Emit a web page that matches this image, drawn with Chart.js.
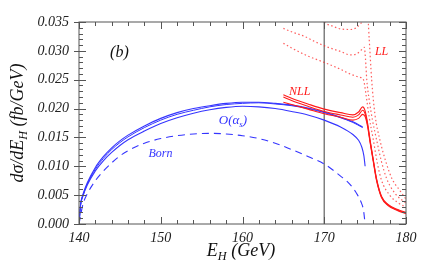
<!DOCTYPE html>
<html>
<head>
<meta charset="utf-8">
<script src="https://cdn.jsdelivr.net/npm/chart.js@4.4.0/dist/chart.umd.min.js"></script>
<style>
body { margin: 0; background: #fff; }
#wrap { width: 436px; height: 278px; }
</style>
</head>
<body>
<div id="wrap"><canvas id="myChart"></canvas></div>
<script>
// axis ticks
var xTicks = [140, 150, 160, 170, 180];
var yTicks = [0, 0.005, 0.010, 0.015, 0.020, 0.025, 0.030, 0.035];
var markE = 170; // vertical line

// O(alpha_s) curves (blue, solid)
var eUp = [140, 140.2, 140.5, 141, 142, 143, 144, 145, 146, 148, 150, 152, 154, 156, 158, 160, 162, 164, 166, 168, 170, 172, 173.5, 174.7];
var vUp1 = [0, 0.0035, 0.0052, 0.0071, 0.0098, 0.0117, 0.0132, 0.0144, 0.0154, 0.0170, 0.0183, 0.0193, 0.0200, 0.0205, 0.0209, 0.0211, 0.0211, 0.0209, 0.0206, 0.0201, 0.0194, 0.0185, 0.0177, 0.0168];
var vUp2 = [0, 0.0034, 0.0050, 0.0069, 0.0095, 0.0114, 0.0129, 0.0141, 0.0151, 0.0167, 0.0180, 0.0190, 0.0197, 0.0203, 0.0207, 0.0209, 0.0210, 0.0208, 0.0205, 0.0200, 0.0193, 0.0184, 0.0176, 0.0167];
var eLow = [140, 140.2, 140.5, 141, 142, 143, 144, 145, 146, 148, 150, 152, 154, 156, 158, 160, 162, 164, 166, 168, 170, 172, 173.5, 174.2, 174.6, 174.85, 175];
var vLow = [0, 0.0033, 0.0049, 0.0067, 0.0092, 0.0110, 0.0124, 0.0136, 0.0146, 0.0161, 0.0174, 0.0184, 0.0192, 0.0198, 0.0202, 0.0204, 0.0203, 0.0200, 0.0195, 0.0189, 0.0180, 0.0168, 0.0155, 0.0145, 0.0133, 0.0118, 0.0100];

// Born (blue, dashed)
var eBorn = [140, 140.5, 141, 142, 143, 144, 145, 146, 148, 150, 152, 154, 156, 158, 160, 162, 164, 166, 168, 170, 172, 173, 174, 174.5, 174.8, 175];
var vBorn = [0, 0.0035, 0.0052, 0.0075, 0.0092, 0.0106, 0.0118, 0.0127, 0.0140, 0.0148, 0.0153, 0.0156, 0.0157, 0.0156, 0.0153, 0.0148, 0.0140, 0.0129, 0.0117, 0.0104, 0.0083, 0.0071, 0.0052, 0.0038, 0.0024, 0];

// NLL (red, solid)
var eNll = [165, 166, 168, 170, 172, 173.5, 174.2, 174.7, 175, 175.3, 175.6, 176, 176.4, 177, 177.8, 179, 180];
var vNll1 = [0.0224, 0.0218, 0.0208, 0.0199, 0.0193, 0.0189, 0.0194, 0.0203, 0.0196, 0.0175, 0.0146, 0.0111, 0.0078, 0.0048, 0.0034, 0.0025, 0.0020];
var vNll2 = [0.0220, 0.0214, 0.0204, 0.0195, 0.0189, 0.0185, 0.0189, 0.0197, 0.0191, 0.0172, 0.0144, 0.0110, 0.0077, 0.0047, 0.0033, 0.0024, 0.0019];
var vNll3 = [0.0211, 0.0207, 0.0199, 0.0191, 0.0185, 0.0180, 0.0183, 0.0190, 0.0186, 0.0169, 0.0142, 0.0108, 0.0075, 0.0046, 0.0032, 0.0023, 0.0018];

// LL (red, dotted)
var eLl1 = [169.5, 170, 171, 172, 173.3, 174, 174.5, 175.3, 175.5, 175.8, 176.2, 176.8, 177.6, 178.3, 179.3, 180];
var vLl1 = [0.0362, 0.0350, 0.0343, 0.0338, 0.0337, 0.0341, 0.0348, 0.0362, 0.0320, 0.0250, 0.0190, 0.0146, 0.0105, 0.0078, 0.0057, 0.0043];
var eLl2 = [165, 166, 167.6, 169, 170.5, 172, 173.2, 174, 174.5, 174.9, 175.05, 175.2, 175.5, 175.9, 176.4, 177, 177.6, 178.6, 180];
var vLl2 = [0.0339, 0.0333, 0.0325, 0.0315, 0.0306, 0.0299, 0.0293, 0.0295, 0.0301, 0.0306, 0.0285, 0.0250, 0.0215, 0.0180, 0.0146, 0.0108, 0.0080, 0.0054, 0.0036];
var eLl3 = [165, 166, 168, 170, 172, 173, 173.7, 174.4, 174.8, 175.1, 175.5, 176, 176.5, 177, 178, 179, 180];
var vLl3 = [0.0313, 0.0305, 0.0291, 0.0280, 0.0268, 0.0261, 0.0257, 0.0254, 0.0250, 0.0225, 0.0185, 0.0146, 0.0105, 0.0076, 0.0050, 0.0037, 0.0029];

var serif = "'Liberation Serif', 'DejaVu Serif', serif";
var blue = "#3535ff";
var red = "#ff1a1a";
var redDot = "rgba(255, 40, 40, 0.75)";

function toPoints(xs, ys) {
	return xs.map(function(x, i) { return { x: x, y: ys[i] }; });
}

function lineSet(xs, ys, color, width, dash) {
	return {
		data: toPoints(xs, ys),
		borderColor: color,
		borderWidth: width,
		borderDash: dash || [],
		fill: false,
		pointRadius: 0,
		cubicInterpolationMode: 'monotone'
	};
}

// draw text made of parts, some as subscripts; returns width
function drawParts(ctx, parts, x, y, size, doDraw) {
	var w = 0;
	parts.forEach(function(p) {
		var s = p.sub ? size * 0.68 : size;
		ctx.font = "italic " + s + "px " + serif;
		if (doDraw) ctx.fillText(p.t, x + w, p.sub ? y + size * 0.22 : y);
		w += ctx.measureText(p.t).width;
	});
	return w;
}

// in-plot labels (positions given in data units)
var notes = [
	{ parts: [{ t: "(b)" }], e: 143.8, v: 0.0289, size: 16, color: "#111" },
	{ parts: [{ t: "LL" }], e: 176.2, v: 0.0293, size: 12, color: red },
	{ parts: [{ t: "NLL" }], e: 165.7, v: 0.02235, size: 12, color: red },
	{ parts: [{ t: "O(α" }, { t: "s", sub: true }, { t: ")" }], e: 157.1, v: 0.0173, size: 13, color: blue },
	{ parts: [{ t: "Born" }], e: 148.5, v: 0.0116, size: 12, color: blue }
];

var framePlugin = {
	id: 'frame',
	beforeDatasetsDraw: function(chart) {
		var ctx = chart.ctx, a = chart.chartArea;
		var px = chart.scales.x.getPixelForValue(markE);
		ctx.save();
		ctx.strokeStyle = "#808080";
		ctx.lineWidth = 1.5;
		ctx.beginPath();
		ctx.moveTo(px, a.top);
		ctx.lineTo(px, a.bottom);
		ctx.stroke();
		ctx.restore();
	},
	afterDraw: function(chart) {
		var ctx = chart.ctx, a = chart.chartArea;
		var xs = chart.scales.x, ys = chart.scales.y;
		ctx.save();
		ctx.strokeStyle = "#555";
		ctx.lineWidth = 1;
		ctx.strokeRect(a.left, a.top, a.right - a.left, a.bottom - a.top);

		// tick marks, pointing inward
		ctx.beginPath();
		for (var e = 140; e <= 180; e += 2) {
			var p = Math.round(xs.getPixelForValue(e)) + 0.5;
			var len = (e % 10 === 0) ? 7 : 4;
			ctx.moveTo(p, a.bottom); ctx.lineTo(p, a.bottom - len);
			ctx.moveTo(p, a.top); ctx.lineTo(p, a.top + len);
		}
		for (var k = 0; k <= 35; k++) {
			var q = Math.round(ys.getPixelForValue(k / 1000)) + 0.5;
			var major = (k % 5 === 0);
			var l2 = major ? 7 : 4;
			ctx.moveTo(major ? a.left - 5 : a.left, q); ctx.lineTo(a.left + l2, q);
			ctx.moveTo(a.right, q); ctx.lineTo(a.right - l2, q);
		}
		ctx.stroke();

		// labels inside the plot
		notes.forEach(function(n) {
			ctx.fillStyle = n.color;
			drawParts(ctx, n.parts, xs.getPixelForValue(n.e), ys.getPixelForValue(n.v), n.size, true);
		});

		// axis titles
		ctx.fillStyle = "#111";
		var xt = [{ t: "E" }, { t: "H", sub: true }, { t: " (GeV)" }];
		var wx = drawParts(ctx, xt, 0, 0, 18, false);
		drawParts(ctx, xt, 241 - wx / 2, 256, 18, true);

		var yt = [{ t: "dσ/dE" }, { t: "H", sub: true }, { t: " (fb/GeV)" }];
		var wy = drawParts(ctx, yt, 0, 0, 18, false);
		ctx.translate(17, 123);
		ctx.rotate(-Math.PI / 2);
		drawParts(ctx, yt, -wy / 2, 6, 18, true);
		ctx.restore();
	}
};

var ctx = document.getElementById('myChart').getContext('2d');
window.myChart = new Chart(ctx, {
	type: 'line',
	data: {
		datasets: [
			lineSet(eNll, vNll1, red, 1.1),
			lineSet(eNll, vNll2, red, 1.1),
			lineSet(eNll, vNll3, red, 1.1),
			lineSet(eLl1, vLl1, redDot, 1.2, [1.5, 2.5]),
			lineSet(eLl2, vLl2, redDot, 1.2, [1.5, 2.5]),
			lineSet(eLl3, vLl3, redDot, 1.2, [1.5, 2.5]),
			lineSet(eUp, vUp1, blue, 1.1),
			lineSet(eUp, vUp2, blue, 1.0),
			lineSet(eLow, vLow, blue, 1.1),
			lineSet(eBorn, vBorn, blue, 1.1, [7, 5])
		]
	},
	options: {
		responsive: true,
		maintainAspectRatio: false,
		animation: false,
		layout: { padding: { left: 0, top: 22, right: 30, bottom: 0 } },
		plugins: {
			legend: { display: false },
			tooltip: { enabled: false }
		},
		scales: {
			x: {
				type: 'linear',
				min: 140,
				max: 180,
				grid: { display: false, drawTicks: false },
				border: { display: false },
				afterBuildTicks: function(s) { s.ticks = xTicks.map(function(v) { return { value: v }; }); },
				afterFit: function(s) { s.height = 54; },
				ticks: {
					padding: 6,
					color: "#222",
					font: { family: serif, size: 14, style: 'italic' },
					callback: function(v) { return String(v); }
				}
			},
			y: {
				min: 0,
				max: 0.035,
				grid: { display: false, drawTicks: false },
				border: { display: false },
				afterBuildTicks: function(s) { s.ticks = yTicks.map(function(v) { return { value: v }; }); },
				afterFit: function(s) { s.width = 79; },
				ticks: {
					padding: 10,
					color: "#222",
					font: { family: serif, size: 14, style: 'italic' },
					callback: function(v) { return Number(v).toFixed(3); }
				}
			}
		}
	},
	plugins: [framePlugin]
});
</script>
</body>
</html>
